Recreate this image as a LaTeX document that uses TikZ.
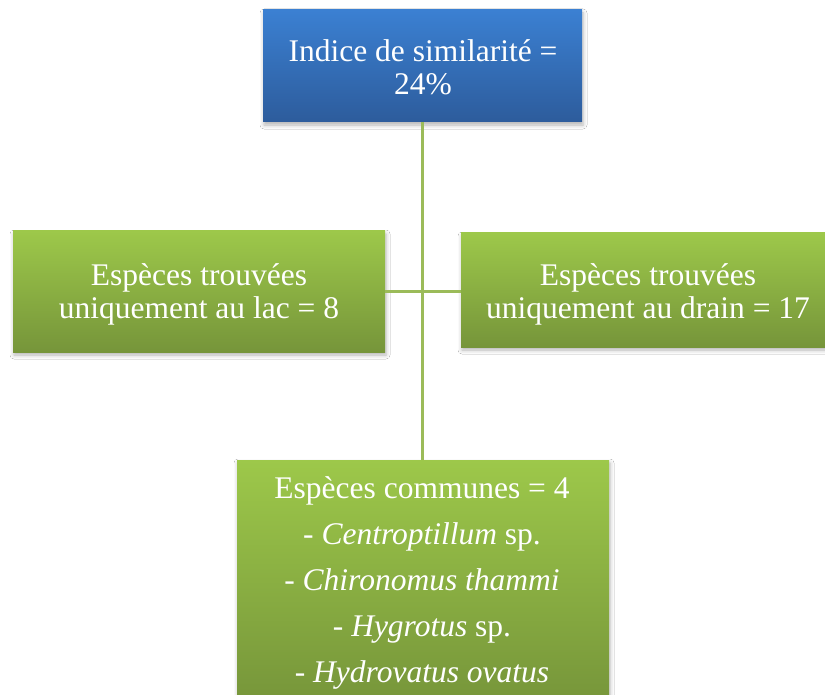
\documentclass[tikz,border=0pt]{standalone}
\usepackage{fontspec}
\setmainfont{Liberation Serif}
\usetikzlibrary{shadows.blur}
\definecolor{blueT}{HTML}{3B80D2}
\definecolor{blueB}{HTML}{2D5C9C}
\definecolor{greenT}{HTML}{9DC84A}
\definecolor{greenB}{HTML}{76953A}
\definecolor{connC}{HTML}{9BBB59}
\begin{document}
\begin{tikzpicture}[x=1pt,y=-1pt,
  box/.style={rectangle, inner sep=0pt,
    blur shadow={shadow xshift=1pt, shadow yshift=-3pt, shadow blur radius=4pt, shadow opacity=30}},
  bluebox/.style={box, top color=blueT, bottom color=blueB},
  greenbox/.style={box, top color=greenT, bottom color=greenB},
  conn/.style={draw=connC, line width=2.6pt},
  lbl/.style={text=white, align=center, inner sep=0pt, anchor=north, font=\fontsize{31.5}{33}\selectfont},
  lbllist/.style={lbl, font=\fontsize{31.5}{46}\selectfont}]
\useasboundingbox (0,0) rectangle (825,695);
\fill[white] (0,0) rectangle (825,695);
\node[bluebox, minimum width=319pt, minimum height=112pt] (top) at (422.5,66) {};
\node[greenbox, minimum width=372pt, minimum height=121pt] (left) at (199,291.5) {};
\node[greenbox, minimum width=368pt, minimum height=114pt] (right) at (645,290) {};
\node[greenbox, minimum width=372pt, minimum height=245pt] (bot) at (423,582.5) {};
\node[lbl] (toplbl) at (423,39) {Indice de similarité =\\24\%};
\node[lbl] (leftlbl) at (199,263) {Espèces trouvées\\uniquement au lac = 8};
\node[lbl] (rightlbl) at (648,263) {Espèces trouvées\\uniquement au drain = 17};
\node[lbllist] (botlbl) at (422,476) {Espèces communes = 4\\- \textit{Centroptillum} sp.\\- \textit{Chironomus thammi}\\- \textit{Hygrotus} sp.\\- \textit{Hydrovatus ovatus}};
\draw[conn] (top.south) -- (top.south |- bot.north);
\draw[conn] (left.east) -- (left.east -| right.west);
\end{tikzpicture}
\end{document}
